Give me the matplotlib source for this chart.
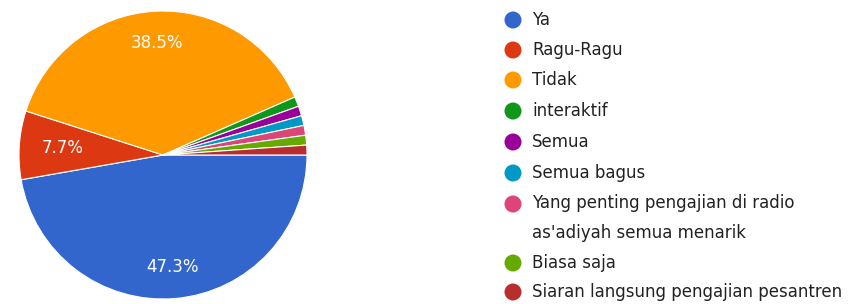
import matplotlib
matplotlib.use("Agg")
import matplotlib.pyplot as plt
import numpy as np

labels = ["Ya", "Ragu-Ragu", "Tidak", "interaktif", "Semua", "Semua bagus",
          "Yang penting pengajian di radio\nas'adiyah semua menarik",
          "Biasa saja", "Siaran langsung pengajian pesantren"]
counts = [43, 7, 35, 1, 1, 1, 1, 1, 1]
colors = ["#3366cc", "#dc3912", "#ff9900", "#109618", "#990099",
          "#0099c6", "#dd4477", "#66aa00", "#b82e2e"]

W, H = 863, 304
fig = plt.figure(figsize=(W / 100, H / 100), dpi=100)
plt.rcParams['font.family'] = ['DejaVu Sans']

# pie, centre (163,155) px, radius 144 px
cx, cy, r = 163, 155, 144
ax = fig.add_axes([(cx - r) / W, (H - cy - r) / H, 2 * r / W, 2 * r / H])
ax.pie(counts, colors=colors, startangle=0, counterclock=False,
       wedgeprops=dict(edgecolor="white", linewidth=0.8))

# percentage labels on big slices
total = sum(counts)
ang = 0.0
for c in counts:
    a0 = ang
    ang -= 360.0 * c / total
    p = 100.0 * c / total
    if p > 5:
        mid = np.deg2rad((a0 + ang) / 2)
        d = 0.78 if p > 20 else 0.70
        ax.text(d * np.cos(mid), d * np.sin(mid), "%.1f%%" % p, color="white",
                ha="center", va="center", fontsize=12)
ax.set_xlim(-1, 1)
ax.set_ylim(-1, 1)
ax.set_aspect("auto")
ax.axis("off")

# legend
lax = fig.add_axes([0, 0, 1, 1])
lax.set_xlim(0, W)
lax.set_ylim(H, 0)
lax.axis("off")
rows = [20, 50, 80, 111, 142, 173, 204, 263, 292]
for y, lab, col in zip(rows, labels, colors):
    lax.scatter([513], [y], s=150, color=col, edgecolors="none")
    if "\n" in lab:
        lax.text(532, y - 10, lab, va="top", ha="left", fontsize=12,
                 color="#222222", linespacing=1.85)
    else:
        lax.text(532, y, lab, va="center", ha="left", fontsize=12,
                 color="#222222")

fig.savefig("out.png", dpi=100)
